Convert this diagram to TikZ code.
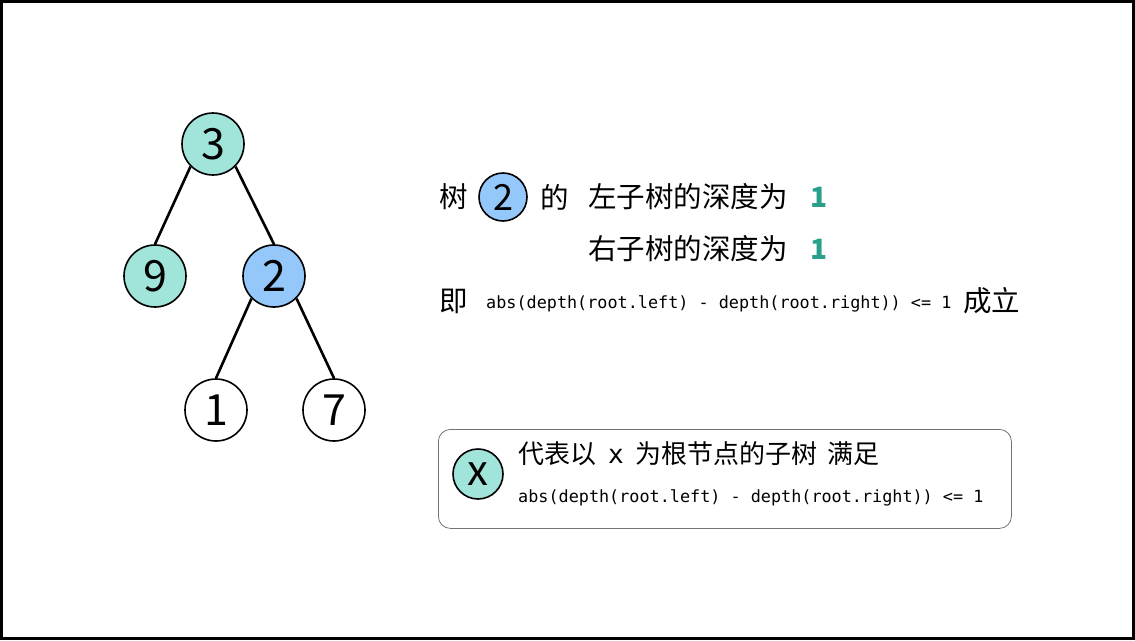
\documentclass[tikz,border=0pt]{standalone}
\usepackage{fontspec}
\usepackage{tikz}
\usetikzlibrary{positioning}
\setmainfont{Noto Sans}
\setmonofont{DejaVu Sans Mono}
\newfontfamily\cjk{Noto Sans CJK SC}
\definecolor{mint}{RGB}{160,228,218}
\definecolor{sky}{RGB}{148,199,250}
\definecolor{deep}{RGB}{42,160,140}

\begin{document}
\begin{tikzpicture}[x=1pt,y=-1pt,
  tnode/.style={draw,circle,line width=1.6pt,minimum size=62pt,inner sep=0pt,
                font=\cjk\fontsize{43}{43}\selectfont},
  small/.style={draw,circle,line width=1.6pt,minimum size=48pt,inner sep=0pt,
                font=\cjk\fontsize{36}{36}\selectfont},
  edge/.style={line width=2.6pt},
  txt/.style={anchor=west,inner sep=0pt,font=\cjk\fontsize{28.5}{28.5}\selectfont},
  code/.style={anchor=west,inner sep=0pt,font=\ttfamily\fontsize{16.8}{17}\selectfont},
  num/.style={anchor=west,inner sep=0pt,text=deep,font=\cjk\bfseries\fontsize{28}{28}\selectfont}
]
\useasboundingbox (0,0) rectangle (1135,640);
\draw[line width=3pt] (1.5,1.5) rectangle (1133.5,638.5);

% the tree
\node[tnode,fill=mint] (n3) at (213,144) {3};
\node[tnode,fill=mint] (n9) at (155,276) {9};
\node[tnode,fill=sky]  (n2) at (274,276) {2};
\node[tnode,fill=white] (n1) at (216,410) {1};
\node[tnode,fill=white] (n7) at (334,410) {7};
\draw[edge] (n3.south west) -- (n9.north);
\draw[edge] (n3.south east) -- (n2.north);
\draw[edge] (n2.south west) -- (n1.north);
\draw[edge] (n2.south east) -- (n7.north);

% explanation
\node[txt] (shu) at (439,197) {树};
\node[small,fill=sky] (c2) at (503,197) {2};
\node[txt] (de) at (540,197) {的};
\node[txt] (lft) at (588,197) {左子树的深度为};
\node[num] (lv) at (810,197) {1};
\node[txt] (rgt) at (588,249) {右子树的深度为};
\node[num] (rv) at (810,249) {1};
\node[txt] (ji) at (439,301) {即};
\node[code] (cond) at (486,304) {abs(depth(root.left) - depth(root.right)) <= 1};
\node[txt] (ok) at (963,301) {成立};

% legend
\node[draw=black!55,line width=0.8pt,rounded corners=12pt,minimum width=573pt,
      minimum height=99pt,anchor=north west] (legend) at (438,429) {};
\node[small,fill=mint,minimum size=50pt,font=\cjk\fontsize{42}{42}\selectfont] (cx) at (478,474) {x};
\node[txt,font=\cjk\fontsize{26}{26}\selectfont] (desc) at (518,454)
  {代表以\hspace{12pt}\texttt{x}\hspace{12pt}为根节点的子树\hspace{10pt}满足};
\node[code] (cond2) at (518,498) {abs(depth(root.left) - depth(root.right)) <= 1};
\end{tikzpicture}
\end{document}
